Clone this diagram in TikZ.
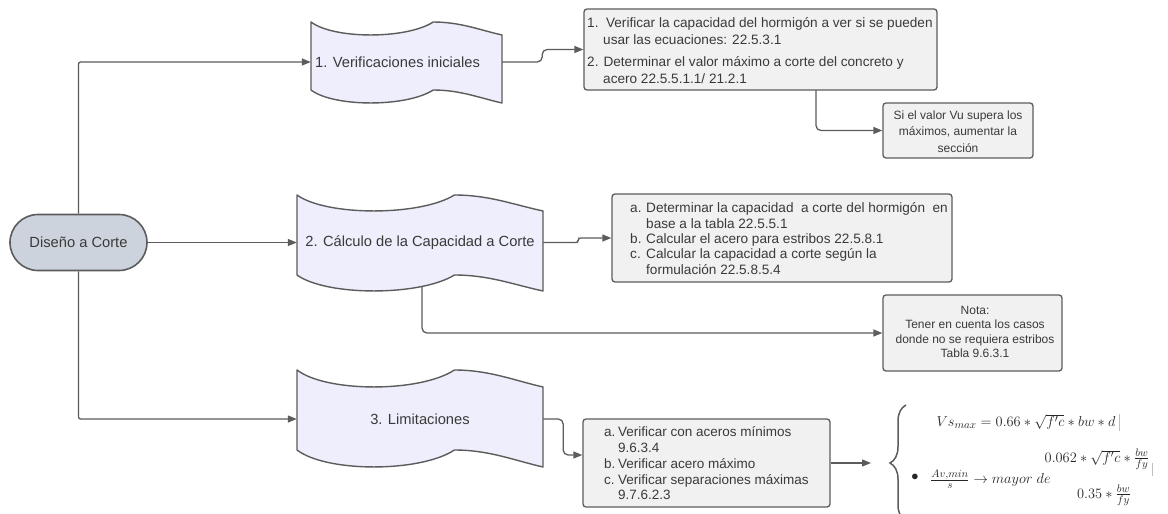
\documentclass[tikz,border=0pt]{standalone}
\usepackage[no-math]{fontspec}
\setmainfont{Liberation Sans}
\usetikzlibrary{arrows.meta,decorations.pathreplacing}

\definecolor{ink}{HTML}{3A3A3A}
\definecolor{edge}{HTML}{5C5C5C}
\definecolor{tapefill}{HTML}{EEEEFC}
\definecolor{startfill}{HTML}{CDD3DD}
\definecolor{boxfill}{HTML}{F1F1F2}
\definecolor{mathink}{HTML}{262626}

\pgfdeclarelayer{paper}
\pgfdeclarelayer{links}
\pgfsetlayers{paper,links,main}

% punched-tape outline: left x, right x, top-left y, bottom-left y, wave depth
\newcommand\tapeshape[5]{%
  \pgfmathsetmacro\tW{#2-#1}%
  \draw[tape] (#1,#3)
    .. controls ({#1+0.12*\tW},{#3+1.33*#5}) and ({#1+0.5*\tW},{#3+1.33*#5}) .. ({#1+0.64*\tW},#3)
    .. controls ({#1+0.78*\tW},#3) and ({#1+0.88*\tW},{#3+0.6*#5}) .. (#2,{#3+#5})
    -- (#2,{#4+#5})
    .. controls ({#1+0.88*\tW},{#4+0.6*#5}) and ({#1+0.78*\tW},#4) .. ({#1+0.64*\tW},#4)
    .. controls ({#1+0.5*\tW},{#4+1.33*#5}) and ({#1+0.12*\tW},{#4+1.33*#5}) .. (#1,#4)
    -- cycle;}

\tikzset{
  conn/.style={draw=edge, line width=1.3pt, -{Triangle[length=9pt,width=7pt]}, rounded corners=5pt},
  trunk/.style={conn, rounded corners=2pt},
  tape/.style={draw=edge, fill=tapefill, line width=1.4pt, line join=round},
  tapeframe/.style={draw=none, inner sep=0pt, text=ink, font=\fontsize{14.7}{17}\selectfont},
  startnode/.style={draw=edge, fill=startfill, line width=1.6pt, rounded corners=28pt,
    minimum width=137pt, minimum height=56pt, inner sep=0pt, text=ink,
    font=\fontsize{14.7}{17}\selectfont},
  infobox/.style={draw=edge, fill=boxfill, line width=1.3pt, rounded corners=3pt, inner sep=0pt},
  listtext/.style={text=ink, align=left, inner sep=0pt, anchor=west},
  centertext/.style={text=ink, align=center, inner sep=0pt},
  formula/.style={text=mathink, inner sep=0pt, font=\fontsize{15}{18}\selectfont},
  cursorbar/.style={draw=black!25, line width=0.8pt}
}

\begin{document}
\begin{tikzpicture}[x=1pt,y=-1pt]
\begin{pgfonlayer}{paper}
\fill[white] (0,0) rectangle (1168,514);
\end{pgfonlayer}
\useasboundingbox (0,0) rectangle (1168,514);

% start terminator
\node[startnode] (d) at (78.5,242.5) {Diseño a Corte};

% the three stages
\tapeshape{311}{502}{22}{90}{13}
\node[tapeframe, minimum width=191pt, minimum height=68pt] (s1) at (406.5,62) {};
\node[tapeframe, anchor=west] (s1t) at (315,62) {1. Verificaciones iniciales};

\tapeshape{297}{543}{195}{275}{16}
\node[tapeframe, minimum width=246pt, minimum height=60pt] (s2) at (420,242.5) {2. Cálculo de la Capacidad a Corte};

\tapeshape{297}{543}{370}{450}{17}
\node[tapeframe, minimum width=246pt, minimum height=60pt] (s3) at (420,419) {3. Limitaciones};

% detail boxes
\node[infobox, minimum width=353pt, minimum height=81pt] (b1) at (760.5,49.5) {};
\node[listtext, font=\fontsize{13.6}{17}\selectfont] (t1) at (587,51)
  {1.\ \ Verificar la capacidad del hormigón a ver si se pueden\\
   \hspace*{16pt}usar las ecuaciones: 22.5.3.1\\[5pt]
   2. Determinar el valor máximo a corte del concreto y\\
   \hspace*{16pt}acero 22.5.5.1.1/ 21.2.1};
\coordinate (c1) at (749,81);

\node[infobox, minimum width=150pt, minimum height=55pt] (b2) at (958,130.5) {};
\node[centertext, font=\fontsize{12}{16.5}\selectfont] (t2) at (958,131.5)
  {Si el valor Vu supera los\\máximos, aumentar la\\sección};

\node[infobox, minimum width=340pt, minimum height=88pt] (b3) at (782,238) {};
\node[listtext, font=\fontsize{13.6}{15.4}\selectfont] (t3) at (630,238.5)
  {\makebox[16pt][l]{a.}Determinar la capacidad\ \ a corte del hormigón\ \ en\\
   \hspace*{16pt}base a la tabla 22.5.5.1\\
   \makebox[16pt][l]{b.}Calcular el acero para estribos 22.5.8.1\\
   \makebox[16pt][l]{c.}Calcular la capacidad a corte según la\\
   \hspace*{16pt}formulación 22.5.8.5.4};

\node[infobox, minimum width=179pt, minimum height=76pt] (b4) at (972.5,333) {};
\node[centertext, font=\fontsize{12}{14.3}\selectfont] (t4) at (975,332)
  {Nota:\\Tener en cuenta los casos\\donde no se requiera estribos\\Tabla 9.6.3.1};
\coordinate (c2) at (422,280);

\node[infobox, minimum width=247pt, minimum height=88pt] (b5) at (706.5,463) {};
\node[listtext, font=\fontsize{13.5}{15.75}\selectfont] (t5) at (604,463.5)
  {\makebox[14pt][l]{a.}Verificar con aceros mínimos\\
   \hspace*{14pt}9.6.3.4\\
   \makebox[14pt][l]{b.}Verificar acero máximo\\
   \makebox[14pt][l]{c.}Verificar separaciones máximas\\
   \hspace*{14pt}9.7.6.2.3};

% formulas behind the brace
\coordinate (br) at (871,463);
\draw[edge, line width=1.5pt, decorate, decoration={brace, amplitude=16pt}] (906,521) -- (906,405);
\node[formula] (f1) at (1026,422) {$Vs_{max} = 0.66 \ast \sqrt{f'c} \ast bw \ast d$};
\draw[cursorbar] (1119,414) -- (1119,431);
\node[formula] (f2b) at (915,477) {$\bullet$};
\node[formula, anchor=west] (f2) at (930,479) {$\frac{Av,min}{s} \rightarrow mayor\ de$};
\node[formula] (f3) at (1097,459) {$0.062 \ast \sqrt{f'c} \ast \frac{bw}{fy}$};
\draw[cursorbar] (1152,463) -- (1152,476);
\node[formula] (f4) at (1104,495) {$0.35 \ast \frac{bw}{fy}$};

% connectors
\begin{pgfonlayer}{links}
\draw[trunk] (d.north) |- (s1.west);
\draw[conn] (d.east) -- (s2.west);
\draw[trunk] (d.south) |- (s3.west);
\draw[conn] (s1.east) -- ++(40,0) |- (b1.west);
\draw[conn] (c1) -- ++(67,0) |- (b2.west);
\draw[conn, rounded corners=2.4pt] (s2.east) -- ++(35,0) |- (b3.west);
\draw[conn] (c2) |- (b4.west);
\draw[conn] (s3.east) -- ++(20,0) |- ([yshift=8pt]b5.west);
\draw[conn] (b5.east) -- (br);
\end{pgfonlayer}
\end{tikzpicture}
\end{document}
